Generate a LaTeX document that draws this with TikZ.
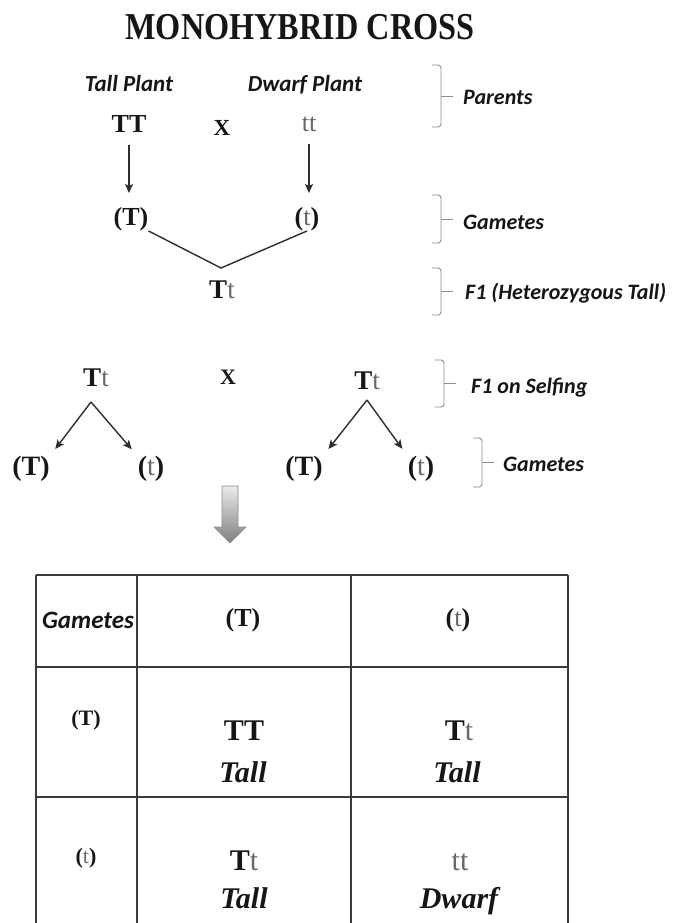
\documentclass[tikz,border=0pt]{standalone}
\usepackage{fontspec}
\setmainfont{Liberation Serif}
\newfontfamily\labfont{Carlito}
\newfontfamily\ttlfont[FakeStretch=0.85]{Liberation Serif}
\usetikzlibrary{arrows.meta}
\definecolor{ink}{HTML}{161616}
\definecolor{tg}{HTML}{686868}
\definecolor{brc}{HTML}{8C8C8C}
\definecolor{arw}{HTML}{2E2E2E}
\definecolor{tbl}{HTML}{3A3A3A}
\newcommand{\tsm}[1]{\textcolor{tg}{\mdseries #1}}
\newcommand{\Brk}[3]{%
  \draw[brkline,rounded corners=3pt] (#1-9,#2) -- (#1,#2) -- (#1,#3) -- (#1-9,#3);
  \draw[brkline] (#1,{(#2+#3)/2}) -- (#1+12,{(#2+#3)/2});}
\tikzset{
  geno/.style={font=\fontsize{26}{28}\selectfont\bfseries, inner sep=0pt, text=ink},
  genobig/.style={font=\fontsize{30}{32}\selectfont\bfseries, inner sep=0pt, text=ink, anchor=base},
  wordbig/.style={font=\fontsize{30}{32}\selectfont\bfseries\itshape, inner sep=0pt, text=ink, anchor=base},
  lab/.style={font=\labfont\fontsize{22}{24}\selectfont\bfseries\itshape, inner sep=0pt, text=ink, anchor=base west},
  plant/.style={font=\labfont\fontsize{23}{25}\selectfont\bfseries\itshape, inner sep=0pt, text=ink, anchor=base},
  crs/.style={font=\fontsize{23}{25}\selectfont\bfseries, inner sep=0pt, text=ink},
  brkline/.style={draw=brc, line width=0.9pt},
  arr/.style={draw=arw, line width=1.4pt, -{Stealth[length=9pt,width=8pt,inset=2pt]}},
  ln/.style={draw=arw, line width=1.4pt},
  grid/.style={draw=tbl, line width=1.6pt}
}
\begin{document}
\begin{tikzpicture}[x=1pt,y=-1pt]
\useasboundingbox[fill=white] (0,0) rectangle (677,923);

% title
\node[inner sep=0pt, text=ink, font=\ttlfont\fontsize{38}{40}\selectfont\bfseries] (title) at (300,27) {MONOHYBRID CROSS};

% parents
\node[plant] (tallp) at (129,92) {Tall Plant};
\node[plant] (dwarfp) at (305,92) {Dwarf Plant};
\node[geno] (P1) at (129,124) {TT};
\node[crs] (x1) at (222,128) {X};
\node[geno] (P2) at (309,124) {\tsm{tt}};
\node[geno] (g1) at (131,219) {(T)};
\node[geno] (g2) at (307,219) {(\tsm{t})};
\node[geno, font=\fontsize{27}{29}\selectfont\bfseries] (F1) at (222,290) {T\tsm{t}};
\coordinate (jn) at (221,268);

\draw[arr, shorten <=12pt, shorten >=14pt] (P1.south) -- (P1.south |- g1.north);
\draw[arr, shorten <=12pt, shorten >=14pt] (P2.south) -- (P2.south |- g2.north);
\draw[ln] (g1.south east) -- (jn) -- (g2.south);

% labels with brackets
\Brk{441}{65}{127}
\node[lab] (lparents) at (463,105) {Parents};
\Brk{441}{195}{243}
\node[lab] (lgam1) at (463,229) {Gametes};
\Brk{441}{268}{315}
\node[lab] (lf1) at (465,299) {F1 (Heterozygous Tall)};
\Brk{444}{360}{407}
\node[lab] (lself) at (471,393) {F1 on Selfing};
\Brk{482}{438}{487}
\node[lab] (lgam2) at (503,471) {Gametes};

% F1 selfing
\node[geno, font=\fontsize{27}{29}\selectfont\bfseries] (S1) at (96,378) {T\tsm{t}};
\node[crs, font=\fontsize{22}{24}\selectfont\bfseries] (x2) at (228,377) {X};
\node[geno, font=\fontsize{27}{29}\selectfont\bfseries] (S2) at (367,381) {T\tsm{t}};
\coordinate (a1) at (91,402);
\coordinate (a2) at (367,400);
\node[geno, font=\fontsize{28}{30}\selectfont\bfseries] (s1) at (31,469) {(T)};
\node[geno, font=\fontsize{28}{30}\selectfont\bfseries] (s2) at (151,469) {(\tsm{t})};
\node[geno, font=\fontsize{28}{30}\selectfont\bfseries] (s3) at (304,469) {(T)};
\node[geno, font=\fontsize{28}{30}\selectfont\bfseries] (s4) at (421,469) {(\tsm{t})};
\draw[arr, shorten >=9pt] (a1) -- (s1.north east);
\draw[arr, shorten >=9pt] (a1) -- (s2.north west);
\draw[arr, shorten >=9pt] (a2) -- (s3.north east);
\draw[arr, shorten >=9pt] (a2) -- (s4.north west);

% big grey arrow
\shade[top color=black!8, bottom color=black!50, draw=black!45, line width=0.6pt]
  (222,486) -- (238,486) -- (238,527) -- (246,527) -- (230,543) -- (214,527) -- (222,527) -- cycle;

% Punnett square
\draw[grid] (36,575) -- (568,575);
\draw[grid] (36,667) -- (568,667);
\draw[grid] (36,797) -- (568,797);
\draw[grid] (36,575) -- (36,923);
\draw[grid] (137,575) -- (137,923);
\draw[grid] (351,575) -- (351,923);
\draw[grid] (568,575) -- (568,923);

\node[inner sep=0pt, text=ink, font=\labfont\fontsize{25}{27}\selectfont\bfseries\itshape] (hg) at (88,620) {Gametes};
\node[geno] (hT) at (243,620) {(T)};
\node[geno] (ht) at (458,620) {(\tsm{t})};
\node[geno, font=\fontsize{22}{24}\selectfont\bfseries] (rT) at (86,720) {(T)};
\node[geno, font=\fontsize{22}{24}\selectfont\bfseries] (rt) at (86,858) {(\tsm{t})};

\node[genobig] (c11) at (244,740) {TT};
\node[wordbig] (w11) at (243,782) {Tall};
\node[genobig] (c12) at (459,740) {T\tsm{t}};
\node[wordbig] (w12) at (457,782) {Tall};
\node[genobig] (c21) at (244,870) {T\tsm{t}};
\node[wordbig] (w21) at (244,908) {Tall};
\node[genobig] (c22) at (460,870) {\tsm{tt}};
\node[wordbig] (w22) at (459,908) {Dwarf};
\end{tikzpicture}
\end{document}
